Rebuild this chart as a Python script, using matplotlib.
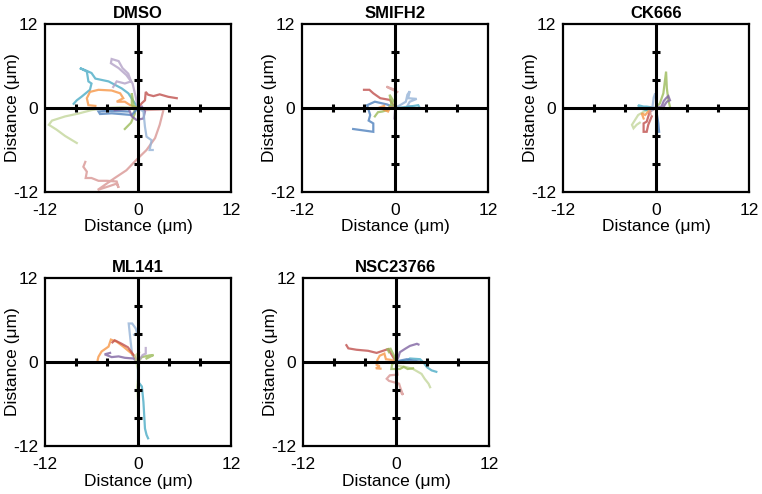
import matplotlib
matplotlib.use("Agg")
import matplotlib.pyplot as plt

plt.rcParams['font.family'] = ['Liberation Sans', 'DejaVu Sans']

# ---- data -------------------------------------------------------------
TITLES = ["DMSO", "SMIFH2", "CK666", "ML141", "NSC23766"]
AXIS_LIMIT = 12
LABEL_TICKS = [-12, 0, 12]
CROSS_TICKS = [-8, -4, 4, 8]
X_LABEL = "Distance (μm)"
Y_LABEL = "Distance (μm)"

COLORS = {
    "blue": "#4f81bd", "red": "#c0504d", "green": "#9bbb59", "purple": "#8064a2",
    "aqua": "#4bacc6", "orange": "#f79646", "ltblue": "#95b3d7", "pink": "#d99694",
    "ltgreen": "#c3d69b", "lavender": "#b3a2c7",
}

DMSO_TRACKS = [
    ("aqua", [0, -1.25, -2.1, -3.8, -5.5, -6.0, -6.8, -7.5, -6.6, -6.4, -6.0, -6.2, -7.3, -7.9, -8.3],
             [0, 2.1, 2.8, 3.8, 4.2, 5.0, 5.4, 5.7, 5.2, 3.8, 3.5, 2.6, 1.6, 1.1, 0.6]),
    ("orange", [0, -1.0, -1.7, -2.75, -1.9, -2.3, -3.4, -5.1, -6.2, -6.6, -6.4, -5.5],
               [0, 0.4, 0.9, 0.9, 1.4, 2.1, 2.5, 2.6, 2.3, 1.4, 0.4, 0.3]),
    ("lavender", [0, -0.3, -0.7, -1.5, -2.5, -3.5, -3.4, -2.5, -2.0, -1.25, -0.9, -1.7, -2.75, -3.2],
                 [0, 1.6, 3.5, 4.7, 5.7, 6.4, 7.0, 6.7, 5.7, 4.9, 3.8, 3.5, 3.8, 3.0]),
    ("red", [0, 0.5, 0.9, 1.0, 1.3, 2.0, 2.8, 3.9, 5.0],
            [0, 0.7, 1.1, 2.3, 1.9, 1.7, 1.95, 1.6, 1.4]),
    ("pink", [0, 0.9, 3.3, 2.8, 2.2, 1.1, -0.2, -1.5, -3.0, -4.3, -5.2, -3.8, -2.75, -2.5, -2.75,
              -4.0, -5.1, -6.0, -6.75, -6.6, -7.05, -6.8],
             [0, -0.3, -0.2, -2.4, -4.3, -6.0, -7.4, -8.9, -10.0, -11.0, -11.7, -11.2, -10.8, -11.4,
              -10.5, -10.4, -10.4, -10.0, -10.0, -9.1, -8.4, -7.7]),
    ("ltgreen", [0, -2.1, -4.25, -6.0, -7.7, -9.4, -11.1, -11.5, -10.5, -9.4, -7.9],
                [0, 0.1, 0.0, -0.3, -0.8, -1.2, -1.8, -2.4, -3.1, -4.0, -5.0]),
    ("green", [0, -0.8, -0.8, -0.6, -0.4, -0.9, -1.7],
              [0, 0.4, 2.1, 0.7, -0.8, -2.1, -3.0]),
    ("blue", [0, -0.8, -3.4, -4.9, -5.1, -3.8, -1.25],
             [0, -1.0, -0.76, -0.86, -0.5, -0.4, -0.5]),
    ("purple", [0, 0.5, 0.9, 0.7, -0.2, -0.8, -1.2, -3.0],
               [0, 0.2, -0.5, -1.5, -1.7, -1.2, -0.1, -0.3]),
    ("ltblue", [0, 0.7, 0.9, 1.1, 1.75, 1.5, 1.9],
               [0, -0.5, -2.7, -4.1, -4.6, -6.0, -6.0]),
]

SMIFH2_TRACKS = [
    ("red", [0, -0.65, -1.9, -2.8, -3.3, -4.0],
            [0, 1.15, 1.4, 2.1, 2.6, 2.6]),
    ("blue", [0, -1.0, -2.6, -3.6, -3.2, -3.4, -2.8, -2.8, -5.4],
             [0, 0.5, 0.9, 0.4, -1.0, -1.8, -2.2, -3.4, -3.0]),
    ("pink", [0, 0.1, 0.0, -1.1, -0.5, 0.3],
             [0, 1.5, 2.6, 3.05, 2.7, 2.3]),
    ("green", [0, -0.5, -0.7, -0.2, -1.0, -1.6, -2.2, -2.6],
              [0, 0.8, 1.9, 1.0, -0.3, -0.5, -0.6, -1.2]),
    ("orange", [0, -0.6, -0.9, -1.5, -1.9, -1.4],
               [0, 0.1, -0.5, -0.2, 0.1, 0.3]),
    ("ltblue", [0, 0.8, 1.4, 1.6, 1.9, 1.7, 2.8, 1.9, 1.6, 2.2],
               [0, 0.5, 0.9, 1.9, 2.4, 1.4, 1.3, 0.9, 0.3, 0.2]),
    ("aqua", [0, 0.2, 1.9, 3.0, 3.2, 1.9],
             [0, 0.0, 0.2, 0.4, 0.0, -0.05]),
    ("lavender", [0, 0.0, -0.1],
                 [0, -0.3, -1.5]),
]

CK666_TRACKS = [
    ("green", [0, 0.5, 0.95, 1.3, 1.4, 1.6, 1.8],
              [0, 0.67, 2.1, 5.2, 2.8, 1.1, 0.2]),
    ("purple", [0, 0.7, 1.0, 1.3, 1.6, 1.8, 1.4, 1.1, 0.9],
               [0, 0.2, 1.0, 1.4, 1.7, 1.1, 0.9, 0.4, -0.1]),
    ("ltgreen", [0, -1.2, -2.3, -2.7, -3.1, -2.9, -2.5, -2.1],
                [0, -0.3, -1.0, -1.7, -2.4, -2.9, -2.4, -2.1]),
    ("red", [0, -0.8, -1.2, -1.6, -1.6, -1.2, -1.0, -0.55],
            [0, -0.5, -1.95, -2.2, -3.4, -3.4, -2.4, -1.2]),
    ("aqua", [0, -1.2, -1.6, -2.3, -2.1, -1.2],
             [0, 0.2, 0.2, 0.4, -0.05, -0.3]),
    ("orange", [0, -1.0, -1.4, -1.85, -1.6],
               [0, -0.5, -1.0, -0.75, -1.5]),
    ("ltblue", [0, -0.5, -0.3, -0.1, 0.1],
               [0, -0.3, 1.5, 2.1, 0.5]),
    ("blue", [0, 0.1, 0.3, 0.4],
             [0, -0.8, -2.2, -3.4]),
    ("pink", [0, -0.8, -0.7],
             [0, 0.0, -0.9]),
]

ML141_TRACKS = [
    ("ltblue", [0, -0.75, -0.95, -1.2, -0.75, -0.3, -0.1, -0.5],
               [0, 1.0, 2.9, 5.5, 5.5, 4.8, 4.1, 3.9]),
    ("aqua", [0, 0.0, 0.0, 0.5, 0.7, 0.8, 0.9, 1.1, 1.3],
             [0, -0.4, -2.8, -3.5, -5.7, -7.6, -9.5, -10.4, -10.9]),
    ("orange", [0, -0.6, -1.9, -2.75, -3.5, -3.8, -4.7, -5.1, -5.2],
               [0, 1.0, 2.2, 2.9, 3.2, 2.2, 1.5, 0.75, 0.3]),
    ("red", [0, -0.7, -1.3, -2.1, -3.0, -3.3],
            [0, 1.2, 2.1, 2.6, 3.1, 2.8]),
    ("purple", [0, -0.6, -1.7, -2.5, -3.4, -4.3, -3.6],
               [0, 0.5, 0.6, 0.8, 0.7, 1.1, 1.3]),
    ("green", [0, 0.5, 1.5, 2.0, 1.1],
              [0, 0.7, 0.95, 1.0, 0.5]),
    ("ltgreen", [0, -0.4, 0.2, -0.3, 0.1, -0.1, 0.0],
                [0, 0.8, 1.5, 0.3, -1.5, -3.6, -5.4]),
    ("lavender", [0, 0.6, 1.0, 1.0],
                 [0, 1.0, 1.2, 2.0]),
]

NSC23766_TRACKS = [
    ("red", [0, -1.0, -2.5, -3.6, -5.1, -6.15, -6.4],
            [0, 1.85, 1.3, 1.6, 1.75, 1.95, 2.4]),
    ("purple", [0, 0.3, 0.5, 1.2, 1.8, 2.7, 2.9],
               [0, 0.67, 1.4, 1.9, 2.3, 2.6, 2.5]),
    ("orange", [0, -0.6, -1.3, -1.5, -2.1, -2.4, -2.5, -2.1, -2.6, -2.0],
               [0, 0.3, 0.4, 1.2, 0.9, 0.3, -0.4, -0.6, -0.9, -0.95]),
    ("green", [0, -0.3, -0.7, -1.1, -0.9],
              [0, 1.0, 1.9, 1.8, 1.4]),
    ("aqua", [0, 0.5, 1.4, 1.8, 3.1, 3.5, 4.0, 4.6, 5.2],
             [0, 0.1, 0.2, 0.5, 0.4, 0.0, -0.75, -1.2, -1.4]),
    ("blue", [0, 0.5, 1.4, 2.2, 3.3],
             [0, 0.2, 0.4, 0.2, 0.0]),
    ("ltgreen", [0, 0.1, 1.4, 2.2, 3.3, 3.7, 4.2, 4.4],
                [0, -0.5, -0.75, -1.0, -1.7, -2.4, -3.1, -3.6]),
    ("green", [0, -0.5, -0.6, 0.5, 1.0, 1.5, 2.2],
              [0, -0.3, -1.0, -1.0, -0.7, -1.0, -0.9]),
    ("pink", [0, 0.1, 0.2, -0.8, -1.2, -0.9, 0.4, 0.6, 0.9, 0.7],
             [0, -1.0, -1.8, -1.9, -2.4, -2.7, -3.1, -3.8, -4.7, -4.4]),
]

PANEL_TRACKS = [DMSO_TRACKS, SMIFH2_TRACKS, CK666_TRACKS, ML141_TRACKS, NSC23766_TRACKS]

# ---- layout (figure fractions) ----------------------------------------
W, H = 762, 494
PANEL_BOXES = [  # left, top in pixels
    (45, 24), (302, 24), (563, 24), (45, 278), (303, 278),
]
AX_W, AX_H = 186, 168

fig = plt.figure(figsize=(W / 100, H / 100), dpi=100)

for (left, top), title, tracks in zip(PANEL_BOXES, TITLES, PANEL_TRACKS):
    ax = fig.add_axes([left / W, 1 - (top + AX_H) / H, AX_W / W, AX_H / H])
    ax.set_xlim(-AXIS_LIMIT, AXIS_LIMIT)
    ax.set_ylim(-AXIS_LIMIT, AXIS_LIMIT)
    for s in ax.spines.values():
        s.set_linewidth(1.6)
        s.set_color("black")
    ax.set_xticks(LABEL_TICKS)
    ax.set_yticks(LABEL_TICKS)
    ax.set_xticklabels([str(v) for v in LABEL_TICKS])
    ax.set_yticklabels([str(v) for v in LABEL_TICKS])
    ax.tick_params(length=0, labelsize=12.5, pad=5)
    ax.tick_params(axis="x", pad=8)

    for name, xs, ys in tracks:
        ax.plot(xs, ys, color=COLORS[name], lw=1.6, alpha=0.8,
                solid_joinstyle="miter", zorder=2)

    ax.axhline(0, color="black", lw=2.2, zorder=3)
    ax.axvline(0, color="black", lw=2.2, zorder=3)
    ax.plot(CROSS_TICKS, [0] * len(CROSS_TICKS), ls="none", marker="|",
            ms=6, mew=2.2, color="black", zorder=4)
    ax.plot([0] * len(CROSS_TICKS), CROSS_TICKS, ls="none", marker="_",
            ms=6, mew=2.2, color="black", zorder=4)

    ax.set_title(title, fontsize=12, fontweight="bold", pad=4)
    ax.set_xlabel(X_LABEL, fontsize=12.5, labelpad=1)
    ax.set_ylabel(Y_LABEL, fontsize=12.5)
    ax.yaxis.set_label_coords(-0.135, 0.5)

fig.savefig("out.png", dpi=100)
